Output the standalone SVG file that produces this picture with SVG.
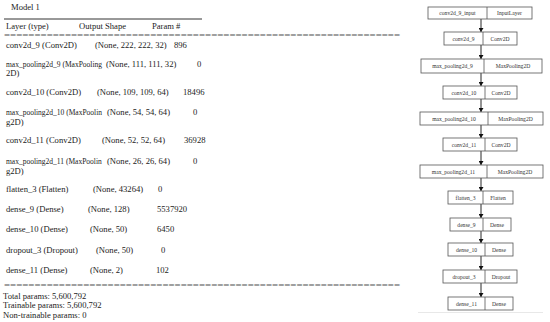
<svg xmlns="http://www.w3.org/2000/svg" width="550" height="322" viewBox="0 0 550 322">
<style>
.t{font-family:"Liberation Serif","Times New Roman",serif;font-size:8.6px;fill:#222}
.s{font-size:7.5px}
.eq{font-family:"Liberation Serif","Times New Roman",serif;font-size:8.6px;fill:#555}
.b{fill:#fff;stroke:#555;stroke-width:0.8}
.d{stroke:#555;stroke-width:0.8}
.n{font-family:"Liberation Serif","Times New Roman",serif;font-size:5.6px;fill:#333;text-anchor:middle}
.c{stroke:#111;stroke-width:0.9;fill:none}
</style>
<defs>
<marker id="ah" markerWidth="5" markerHeight="5" refX="4" refY="2.5" orient="auto" markerUnits="userSpaceOnUse">
<path d="M0,0 L4,2.5 L0,5 Z" fill="#111"/>
</marker>
</defs>
<rect width="550" height="322" fill="#fff"/>
<g id="summary">
<text class="t" x="11" y="10">Model 1</text>
<line x1="4" y1="19" x2="202" y2="19" stroke="#333" stroke-width="1"/>
<text class="t" x="6" y="29">Layer (type)</text>
<text class="t" x="79" y="29">Output Shape</text>
<text class="t" x="152" y="29">Param #</text>
<text class="eq" x="4" y="38" textLength="396" lengthAdjust="spacingAndGlyphs">=================================================================</text>
<text class="t" x="6" y="48">conv2d_9 (Conv2D)</text>
<text class="t" x="95" y="48">(None, 222, 222, 32)</text>
<text class="t" x="174" y="48">896</text>
<text class="t s" x="6" y="67">max_pooling2d_9 (MaxPooling</text>
<text class="t" x="106" y="67">(None, 111, 111, 32)</text>
<text class="t" x="197" y="67">0</text>
<text class="t" x="6" y="76">2D)</text>
<text class="t" x="6" y="95">conv2d_10 (Conv2D)</text>
<text class="t" x="97" y="95">(None, 109, 109, 64)</text>
<text class="t" x="183" y="95">18496</text>
<text class="t s" x="6" y="115">max_pooling2d_10 (MaxPoolin</text>
<text class="t" x="107" y="115">(None, 54, 54, 64)</text>
<text class="t" x="193" y="115">0</text>
<text class="t" x="6" y="125">g2D)</text>
<text class="t" x="6" y="143">conv2d_11 (Conv2D)</text>
<text class="t" x="102" y="143">(None, 52, 52, 64)</text>
<text class="t" x="184" y="143">36928</text>
<text class="t s" x="6" y="164">max_pooling2d_11 (MaxPoolin</text>
<text class="t" x="107" y="164">(None, 26, 26, 64)</text>
<text class="t" x="193" y="164">0</text>
<text class="t" x="6" y="174">g2D)</text>
<text class="t" x="6" y="192">flatten_3 (Flatten)</text>
<text class="t" x="93" y="192">(None, 43264)</text>
<text class="t" x="158" y="192">0</text>
<text class="t" x="6" y="212">dense_9 (Dense)</text>
<text class="t" x="88" y="212">(None, 128)</text>
<text class="t" x="157" y="212">5537920</text>
<text class="t" x="6" y="232">dense_10 (Dense)</text>
<text class="t" x="90" y="232">(None, 50)</text>
<text class="t" x="157" y="232">6450</text>
<text class="t" x="6" y="253">dropout_3 (Dropout)</text>
<text class="t" x="96" y="253">(None, 50)</text>
<text class="t" x="161" y="253">0</text>
<text class="t" x="6" y="273">dense_11 (Dense)</text>
<text class="t" x="90" y="273">(None, 2)</text>
<text class="t" x="156" y="273">102</text>
<text class="eq" x="4" y="288" textLength="396" lengthAdjust="spacingAndGlyphs">=================================================================</text>
<text class="t" x="3" y="299">Total params: 5,600,792</text>
<text class="t" x="3" y="308">Trainable params: 5,600,792</text>
<text class="t" x="3" y="318">Non-trainable params: 0</text>
</g>
<g id="connectors">
<line class="c" x1="481" y1="19" x2="481" y2="32" marker-end="url(#ah)"/>
<line class="c" x1="481" y1="45" x2="481" y2="59" marker-end="url(#ah)"/>
<line class="c" x1="481" y1="73" x2="481" y2="86" marker-end="url(#ah)"/>
<line class="c" x1="481" y1="99" x2="481" y2="112" marker-end="url(#ah)"/>
<line class="c" x1="481" y1="125" x2="481" y2="138" marker-end="url(#ah)"/>
<line class="c" x1="481" y1="151" x2="481" y2="165" marker-end="url(#ah)"/>
<line class="c" x1="481" y1="178" x2="481" y2="191" marker-end="url(#ah)"/>
<line class="c" x1="481" y1="204" x2="481" y2="218" marker-end="url(#ah)"/>
<line class="c" x1="481" y1="231" x2="481" y2="243" marker-end="url(#ah)"/>
<line class="c" x1="481" y1="256" x2="481" y2="270" marker-end="url(#ah)"/>
<line class="c" x1="481" y1="283" x2="481" y2="297" marker-end="url(#ah)"/>
</g>
<g id="n1"><rect class="b" x="428" y="7" width="104" height="12"/><line class="d" x1="487" y1="7" x2="487" y2="19"/><text class="n" x="457.5" y="15">conv2d_9_input</text><text class="n" x="509.5" y="15">InputLayer</text></g>
<g id="n2"><rect class="b" x="444" y="32" width="73" height="13"/><line class="d" x1="483" y1="32" x2="483" y2="45"/><text class="n" x="463.5" y="40.5">conv2d_9</text><text class="n" x="500" y="40.5">Conv2D</text></g>
<g id="n3"><rect class="b" x="421" y="59" width="121" height="14"/><line class="d" x1="484" y1="59" x2="484" y2="73"/><text class="n" x="452.5" y="68">max_pooling2d_9</text><text class="n" x="513" y="68">MaxPooling2D</text></g>
<g id="n4"><rect class="b" x="443" y="86" width="74" height="13"/><line class="d" x1="485" y1="86" x2="485" y2="99"/><text class="n" x="464" y="94.5">conv2d_10</text><text class="n" x="501" y="94.5">Conv2D</text></g>
<g id="n5"><rect class="b" x="420" y="112" width="123" height="13"/><line class="d" x1="488" y1="112" x2="488" y2="125"/><text class="n" x="454" y="120.5">max_pooling2d_10</text><text class="n" x="515.5" y="120.5">MaxPooling2D</text></g>
<g id="n6"><rect class="b" x="443" y="138" width="74" height="13"/><line class="d" x1="485" y1="138" x2="485" y2="151"/><text class="n" x="464" y="146.5">conv2d_11</text><text class="n" x="501" y="146.5">Conv2D</text></g>
<g id="n7"><rect class="b" x="420" y="165" width="123" height="13"/><line class="d" x1="487" y1="165" x2="487" y2="178"/><text class="n" x="453.5" y="173.5">max_pooling2d_11</text><text class="n" x="515" y="173.5">MaxPooling2D</text></g>
<g id="n8"><rect class="b" x="448" y="191" width="65" height="13"/><line class="d" x1="483" y1="191" x2="483" y2="204"/><text class="n" x="465.5" y="199.5">flatten_3</text><text class="n" x="498" y="199.5">Flatten</text></g>
<g id="n9"><rect class="b" x="450" y="218" width="61" height="13"/><line class="d" x1="483" y1="218" x2="483" y2="231"/><text class="n" x="466.5" y="226.5">dense_9</text><text class="n" x="497" y="226.5">Dense</text></g>
<g id="n10"><rect class="b" x="448" y="243" width="65" height="13"/><line class="d" x1="485" y1="243" x2="485" y2="256"/><text class="n" x="466.5" y="251.5">dense_10</text><text class="n" x="499" y="251.5">Dense</text></g>
<g id="n11"><rect class="b" x="443" y="270" width="74" height="13"/><line class="d" x1="485" y1="270" x2="485" y2="283"/><text class="n" x="464" y="278.5">dropout_3</text><text class="n" x="501" y="278.5">Dropout</text></g>
<g id="n12"><rect class="b" x="448" y="297" width="65" height="13"/><line class="d" x1="485" y1="297" x2="485" y2="310"/><text class="n" x="466.5" y="305.5">dense_11</text><text class="n" x="499" y="305.5">Dense</text></g>
<line x1="418" y1="312.5" x2="543" y2="312.5" stroke="#e2e2e2" stroke-width="0.8"/>
</svg>
